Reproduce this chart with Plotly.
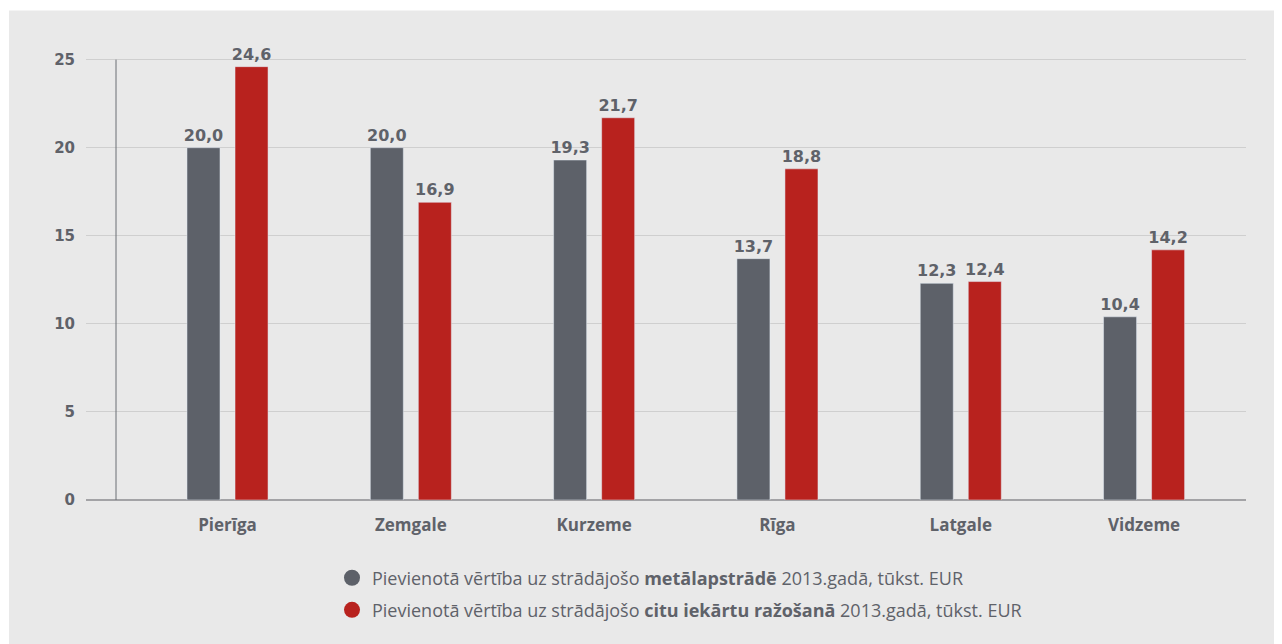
import plotly.graph_objects as go

regions = ["Pierīga", "Zemgale", "Kurzeme", "Rīga", "Latgale", "Vidzeme"]
metal = [20.0, 20.0, 19.3, 13.7, 12.3, 10.4]
other = [24.6, 16.9, 21.7, 18.8, 12.4, 14.2]
name_metal = "Pievienotā vērtība uz strādājošo <b>metālapstrādē</b> 2013.gadā, tūkst. EUR"
name_other = "Pievienotā vērtība uz strādājošo <b>citu iekārtu ražošanā</b> 2013.gadā, tūkst. EUR"
y_ticks = [0, 5, 10, 15, 20, 25]

GRAY = "#5d6169"
RED = "#b8221e"
TXT = "#5f6269"
FONT = "Open Sans"
NUMFONT = "DejaVu Sans"

def fmt(v):
    return f"{v:.1f}".replace(".", ",")

fig = go.Figure()
fig.add_trace(go.Bar(x=regions, y=metal, marker_color=GRAY, showlegend=False,
                     text=[fmt(v) for v in metal], textposition="outside", constraintext="none",
                     textfont=dict(family=NUMFONT, size=16, color=TXT, weight="bold"),
                     cliponaxis=False, hoverinfo="skip"))
fig.add_trace(go.Bar(x=regions, y=other, marker_color=RED, showlegend=False,
                     text=[fmt(v) for v in other], textposition="outside", constraintext="none",
                     textfont=dict(family=NUMFONT, size=16, color=TXT, weight="bold"),
                     cliponaxis=False, hoverinfo="skip"))
# legend entries (circle symbols)
fig.add_trace(go.Scatter(x=[None], y=[None], mode="markers", name=name_metal,
                         marker=dict(color=GRAY, size=20, symbol="circle"), legend="legend"))
fig.add_trace(go.Scatter(x=[None], y=[None], mode="markers", name=name_other,
                         marker=dict(color=RED, size=20, symbol="circle"), legend="legend2"))

# page has an 8px body margin; figure coordinates are page coordinates minus 8
W, H = 1274, 636
L, R, B = 78, 36, 144
plot_h = 26 * 17.6
T = H - B - plot_h

def px_to_xp(px):
    return (px - L) / (W - L - R)

def py_to_yp(py):
    return (H - B - py) / plot_h

legend_common = dict(font=dict(family=FONT, size=18, color=TXT), bgcolor="rgba(0,0,0,0)",
                     xanchor="left", yanchor="middle", itemsizing="trace")

fig.update_layout(
    width=W, height=H,
    margin=dict(l=L, r=R, t=T, b=B),
    paper_bgcolor="#e9e9e9", plot_bgcolor="rgba(0,0,0,0)",
    barmode="group", bargap=0.476, bargroupgap=0.3125,
    font=dict(family=FONT, color=TXT),
    xaxis=dict(range=[-0.772, 5.556], showgrid=False, ticks="", showline=False,
               zeroline=False, ticklabelstandoff=13,
               tickfont=dict(family=FONT, size=17, color=TXT, weight="bold")),
    yaxis=dict(range=[0, 26], tickvals=y_ticks, showgrid=True, gridcolor="#cfcfcf",
               gridwidth=1, zeroline=True, zerolinecolor="#a3a3a6", zerolinewidth=2,
               showline=False, ticks="", ticklabelstandoff=10,
               tickfont=dict(family=NUMFONT, size=15, color=TXT, weight="bold")),
    legend=dict(x=px_to_xp(324), y=py_to_yp(570), **legend_common),
    legend2=dict(x=px_to_xp(324), y=py_to_yp(602), **legend_common),
    shapes=[
        # vertical axis line
        dict(type="line", xref="paper", yref="y", x0=px_to_xp(108), x1=px_to_xp(108),
             y0=0, y1=25, line=dict(color="#6b6e74", width=1)),
        # white page strips (top, left)
        dict(type="rect", xref="paper", yref="paper", x0=px_to_xp(0), x1=px_to_xp(W),
             y0=py_to_yp(3), y1=py_to_yp(0), fillcolor="white", line=dict(width=0), layer="below"),
        dict(type="rect", xref="paper", yref="paper", x0=px_to_xp(0), x1=px_to_xp(1),
             y0=py_to_yp(H), y1=py_to_yp(0), fillcolor="white", line=dict(width=0), layer="below"),
    ],
)

fig.write_html("out.html")
